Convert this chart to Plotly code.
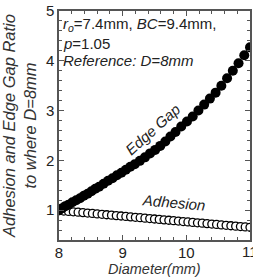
import plotly.graph_objects as go

# Data
edge_d = [8.00, 8.05, 8.10, 8.15, 8.21, 8.27, 8.33, 8.39, 8.45, 8.51, 8.57, 8.63, 8.70, 8.77,
          8.84, 8.91, 8.98, 9.05, 9.12, 9.19, 9.27, 9.35, 9.43, 9.51, 9.59, 9.67, 9.75, 9.83,
          9.92, 10.01, 10.10, 10.19, 10.28, 10.37, 10.46, 10.55, 10.64, 10.73, 10.82, 10.91, 11.00]
edge_gap = [1.00, 1.04, 1.08, 1.11, 1.16, 1.20, 1.24, 1.29, 1.33, 1.38, 1.43, 1.47, 1.53, 1.59,
            1.64, 1.70, 1.75, 1.81, 1.87, 1.92, 1.99, 2.06, 2.14, 2.21, 2.29, 2.38, 2.48, 2.57,
            2.68, 2.78, 2.88, 3.00, 3.12, 3.24, 3.36, 3.50, 3.65, 3.80, 3.95, 4.11, 4.27]

adh_d = [8.000, 8.075, 8.150, 8.225, 8.300, 8.375, 8.450, 8.525, 8.600, 8.675, 8.750, 8.825,
         8.900, 8.975, 9.050, 9.125, 9.200, 9.275, 9.350, 9.425, 9.500, 9.575, 9.650, 9.725,
         9.800, 9.875, 9.950, 10.025, 10.100, 10.175, 10.250, 10.325, 10.400, 10.475, 10.550,
         10.625, 10.700, 10.775, 10.850, 10.925, 11.000]
adhesion = [0.990, 0.982, 0.974, 0.966, 0.958, 0.950, 0.941, 0.933, 0.924, 0.916, 0.907, 0.899,
            0.890, 0.882, 0.873, 0.865, 0.856, 0.848, 0.839, 0.831, 0.822, 0.814, 0.805, 0.797,
            0.788, 0.780, 0.771, 0.763, 0.754, 0.746, 0.737, 0.729, 0.720, 0.712, 0.703, 0.695,
            0.686, 0.678, 0.670, 0.662, 0.655]

x_ticks = [8, 9, 10]
x_last_tick = 11
y_ticks = [1, 2, 3, 4, 5]

FONT = "Liberation Sans, Arial, sans-serif"
TICK_FONT = dict(family=FONT, size=15, color="#222")

fig = go.Figure()
fig.add_trace(go.Scatter(
    x=adh_d, y=adhesion, mode="markers",
    marker=dict(symbol="circle", size=8, color="white", line=dict(color="black", width=1.3)),
    showlegend=False))
fig.add_trace(go.Scatter(
    x=edge_d, y=edge_gap, mode="markers",
    marker=dict(symbol="circle", size=10, color="black", line=dict(width=0)),
    showlegend=False))

axis_common = dict(
    showline=True, linecolor="#555", linewidth=1.5, mirror="ticks",
    ticks="inside", ticklen=5, tickcolor="#555", tickwidth=1,
    showgrid=False, zeroline=False, automargin=False,
    tickfont=TICK_FONT,
)

fig.update_xaxes(
    range=[8, 11], tickvals=x_ticks, ticktext=[str(v) for v in x_ticks],
    ticklabelstandoff=-2,
    minor=dict(ticks="inside", ticklen=3, dtick=0.2, tickcolor="#555", showgrid=False),
    **axis_common)
fig.update_yaxes(
    range=[0.4, 5.0], tickvals=y_ticks, ticktext=[str(v) for v in y_ticks],
    minor=dict(ticks="inside", ticklen=3, dtick=0.2, tickcolor="#555", showgrid=False),
    title=dict(text="<i>Adhesion and Edge Gap Ratio<br>to where D=8mm</i>",
               font=dict(family=FONT, size=16.5, color="#333"), standoff=6),
    **axis_common)

# cut-off last x tick label
fig.add_annotation(x=x_last_tick, y=0, xref="x", yref="paper", xanchor="center", yanchor="top",
                   yshift=-1, showarrow=False, text=str(x_last_tick), font=TICK_FONT)

# x-axis title
fig.add_annotation(x=0.5, y=0, xref="paper", yref="paper", xanchor="center", yanchor="middle",
                   yshift=-29, showarrow=False, text="<i>Diameter(mm)</i>",
                   font=dict(family=FONT, size=14.5, color="#333"))

ann_font = dict(family=FONT, size=15, color="#222")
fig.add_annotation(x=0.0, y=0.943, xref="paper", yref="paper", xanchor="left", yanchor="middle",
                   xshift=2, showarrow=False,
                   text="<i>r</i><sub><i>o</i></sub>=7.4mm, <i>BC</i>=9.4mm,", font=ann_font)
fig.add_annotation(x=0.0, y=0.860, xref="paper", yref="paper", xanchor="left", yanchor="middle",
                   xshift=2, showarrow=False, text="<i>p</i>=1.05", font=ann_font)
fig.add_annotation(x=0.0, y=0.782, xref="paper", yref="paper", xanchor="left", yanchor="middle",
                   xshift=2, showarrow=False, text="<i>Reference: D=8mm</i>", font=ann_font)

fig.add_annotation(x=9.47, y=2.62, xref="x", yref="y", showarrow=False, textangle=-42,
                   text="<i>Edge Gap</i>", font=ann_font)
fig.add_annotation(x=9.81, y=1.16, xref="x", yref="y", showarrow=False, textangle=5,
                   text="<i>Adhesion</i>", font=ann_font)

fig.update_layout(
    width=253, height=279,
    margin=dict(l=59, r=3, t=11, b=39),
    paper_bgcolor="white", plot_bgcolor="white",
    font=dict(family=FONT),
)

fig.write_html("out.html")
